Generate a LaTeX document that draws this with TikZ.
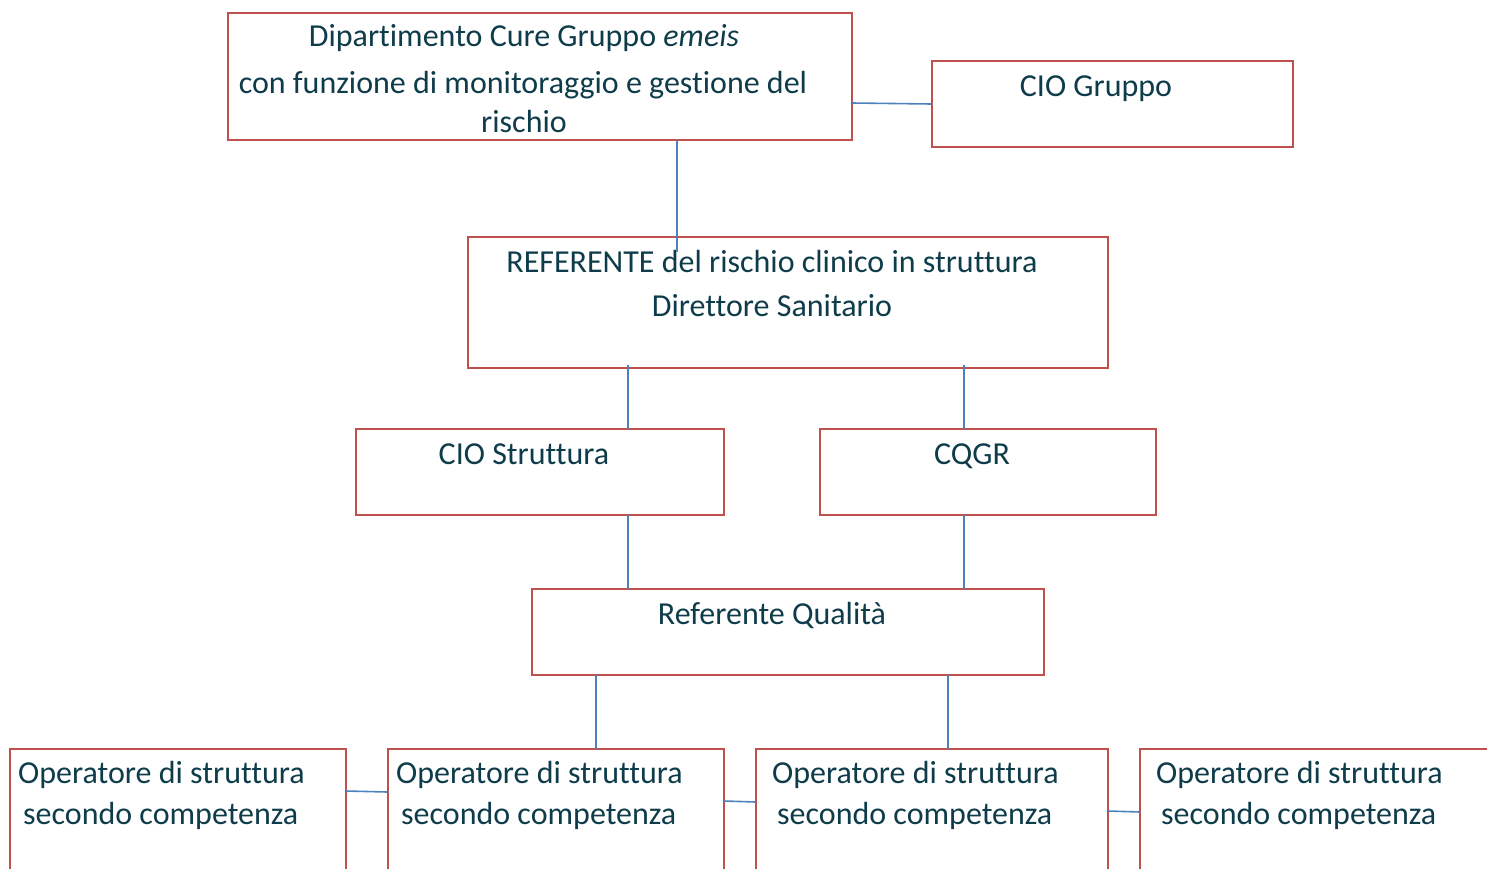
\documentclass[tikz,border=0pt]{standalone}
\usepackage{fontspec}
\setmainfont[Ligatures=NoCommon]{Carlito}
\definecolor{boxred}{RGB}{192,80,77}
\definecolor{linkblue}{RGB}{79,129,189}
\definecolor{txt}{RGB}{14,60,74}
\begin{document}
\begin{tikzpicture}[x=1pt,y=-1pt,
  box/.style={draw=boxred,line width=1.8pt,rectangle,inner sep=0pt,outer sep=0pt},
  link/.style={draw=linkblue,line width=1.6pt},
  lbl/.style={text=txt,font=\fontsize{32}{44}\selectfont,inner sep=0pt,anchor=base},
  lblw/.style={lbl,anchor=base west}]
\useasboundingbox (0,0) rectangle (1487,868);
\clip (0,0) rectangle (1487,868);
% boxes
\node[box,minimum width=624pt,minimum height=127pt] (top) at (540,76.5) {};
\node[box,minimum width=361pt,minimum height=86pt] (cio) at (1112.5,104) {};
\node[box,minimum width=640pt,minimum height=131pt] (ref) at (788,302.5) {};
\node[box,minimum width=368pt,minimum height=86pt] (cs) at (540,472) {};
\node[box,minimum width=336pt,minimum height=86pt] (cq) at (988,472) {};
\node[box,minimum width=512pt,minimum height=86pt] (rq) at (788,632) {};
\node[box,minimum width=336pt,minimum height=160pt] (b1) at (178,829) {};
\node[box,minimum width=336pt,minimum height=160pt] (b2) at (556,829) {};
\node[box,minimum width=352pt,minimum height=160pt] (b3) at (932,829) {};
\node[box,minimum width=380pt,minimum height=160pt] (b4) at (1330,829) {};
% texts
\node[lbl] (t1a) at (524,46) {Dipartimento Cure Gruppo \textit{emeis}};
\node[lbl] (t1b) at (523,93) {con funzione di monitoraggio e gestione del};
\node[lbl] (t1c) at (524,132) {rischio};
\node[lbl] (t2) at (1096,96) {CIO Gruppo};
\node[lbl] (t3a) at (772,272) {REFERENTE del rischio clinico in struttura};
\node[lbl] (t3b) at (772,316) {Direttore Sanitario};
\node[lbl] (t4) at (524,464) {CIO Struttura};
\node[lbl] (t5) at (972,464) {CQGR};
\node[lbl] (t6) at (772,624) {Referente Qualità};
\node[lblw] (t7a) at (18,783) {Operatore di struttura};
\node[lblw] (t7b) at (23,824) {secondo competenza};
\node[lblw] (t8a) at (396,783) {Operatore di struttura};
\node[lblw] (t8b) at (401,824) {secondo competenza};
\node[lblw] (t9a) at (772,783) {Operatore di struttura};
\node[lblw] (t9b) at (777,824) {secondo competenza};
\node[lblw] (t10a) at (1156,783) {Operatore di struttura};
\node[lblw] (t10b) at (1161,824) {secondo competenza};
% helper coordinates
\coordinate (x1) at (677,0);
\coordinate (x2) at (628,0);
\coordinate (x3) at (964,0);
\coordinate (x4) at (596,0);
\coordinate (x5) at (948,0);
\coordinate (y1) at (0,103);
\coordinate (y2) at (0,791);
\coordinate (y3) at (0,801);
\coordinate (y4) at (0,811);
% connectors
\draw[link] (top.east |- y1) -- (cio.west);
\draw[link] (top.south -| x1) -- (ref.north -| x1) -- ++(0,15);
\draw[link] (ref.south -| x2) ++(0,-3) -- (cs.north -| x2);
\draw[link] (ref.south -| x3) ++(0,-3) -- (cq.north -| x3);
\draw[link] (cs.south -| x2) -- (rq.north -| x2);
\draw[link] (cq.south -| x3) -- (rq.north -| x3);
\draw[link] (rq.south -| x4) -- (b2.north -| x4);
\draw[link] (rq.south -| x5) -- (b3.north -| x5);
\draw[link] (b1.east |- y2) -- ([yshift=-1pt]b2.west |- y2);
\draw[link] (b2.east |- y3) -- ([yshift=-1pt]b3.west |- y3);
\draw[link] (b3.east |- y4) -- ([yshift=-1pt]b4.west |- y4);
\end{tikzpicture}
\end{document}
